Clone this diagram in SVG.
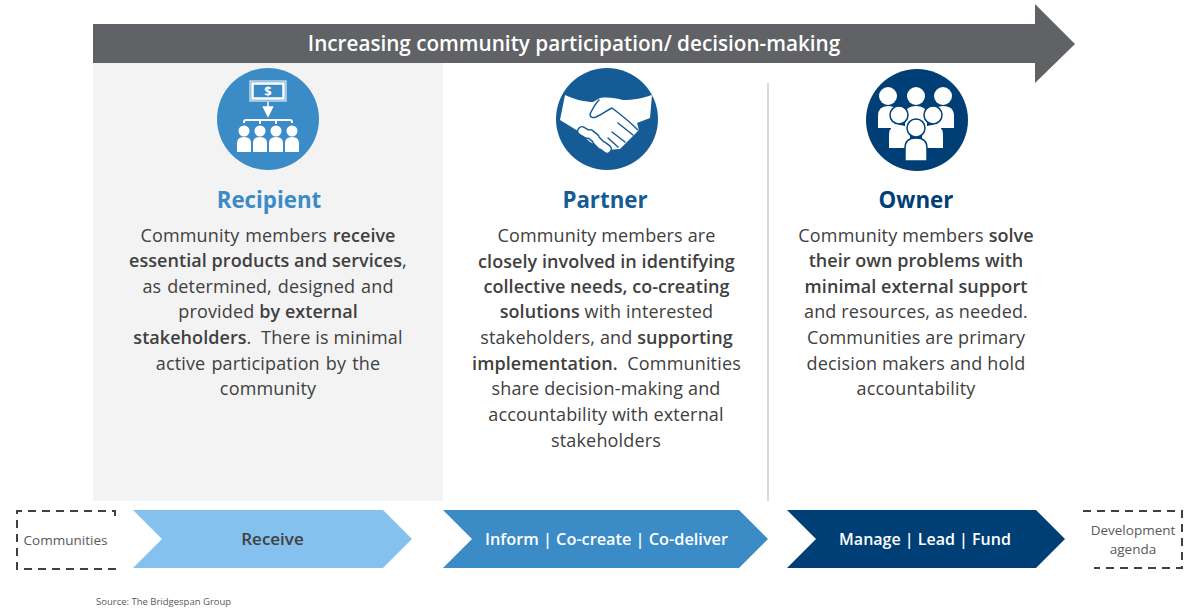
<svg xmlns="http://www.w3.org/2000/svg" width="1198" height="612" viewBox="0 0 1198 612">
<style>
text{font-family:"Open Sans","Noto Sans","Liberation Sans",sans-serif;fill:#404040;white-space:pre}
.b{font-size:18px;text-anchor:middle;fill:#404040;letter-spacing:.16px}
.s{font-weight:600;letter-spacing:.05px}
.h{font-size:22.300px;font-weight:700;text-anchor:middle}
.c{font-size:16.300px;font-weight:600;text-anchor:middle}
.d{font-size:13.500px;text-anchor:middle;fill:#595959}
.w{fill:#fff;stroke:none}
.dash{fill:none;stroke:#404040;stroke-width:2;stroke-dasharray:8 6}
</style>
<rect x="93" y="63" width="350" height="438" fill="#f3f3f3"/>
<path d="M93 24H1035V4L1075 44L1035 83V63H93Z" fill="#616265"/>
<text x="574" y="51" text-anchor="middle" font-size="20.700" font-weight="600" style="fill:#fff">Increasing community participation/ decision-making</text>
<line x1="768" y1="83" x2="768" y2="501" stroke="#d9d9d9" stroke-width="2"/>

<g id="node-recipient">
<circle cx="268" cy="119" r="51" fill="#3b8bc7"/>
<rect x="250" y="81" width="36" height="20" fill="none" stroke="#fff" stroke-width="1"/>
<rect x="252.500" y="83.500" width="31" height="15" fill="none" stroke="#fff" stroke-width="2.500"/>
<text x="268" y="96" text-anchor="middle" font-size="13" font-weight="700" style="fill:#fff">$</text>
<path d="M268 102V110M263.500 107H272.500L268 116Z" stroke="#fff" stroke-width="1.500" fill="#fff"/>
<path d="M244 123V122Q244 120 246 120H290Q292 120 292 122V123M260 120V124M276 120V124" fill="none" stroke="#fff" stroke-width="2"/>
<g class="w">
<circle cx="244" cy="131" r="5.500"/><path d="M237 152V143Q237 137 244 137Q251 137 251 143V152Z"/>
<circle cx="260" cy="131" r="5.500"/><path d="M253 152V143Q253 137 260 137Q267 137 267 143V152Z"/>
<circle cx="276" cy="131" r="5.500"/><path d="M269 152V143Q269 137 276 137Q283 137 283 143V152Z"/>
<circle cx="292" cy="131" r="5.500"/><path d="M285 152V143Q285 137 292 137Q299 137 299 143V152Z"/>
</g>
<text class="h" x="269" y="208" style="fill:#3b8bc7">Recipient</text>
<text class="b" x="268" y="242" word-spacing="1">Community members <tspan class="s">receive</tspan></text>
<text class="b" x="268" y="267"><tspan class="s">essential products and services</tspan>,</text>
<text class="b" x="268" y="293" word-spacing="1">as determined, designed and</text>
<text class="b" x="268" y="318">provided <tspan class="s">by external</tspan></text>
<text class="b" x="268" y="344"><tspan class="s">stakeholders</tspan>.  There is minimal</text>
<text class="b" x="268" y="370" word-spacing="1.200">active participation by the</text>
<text class="b" x="268" y="395">community</text>
</g>

<g id="node-partner">
<circle cx="607" cy="119" r="51" fill="#155c96"/>
<path class="w" d="M565 95C576 100 586 102 593 102L600 98C608 97 616 98 623 100C633 100 644 98 652 95L650 118L637 123L639 130L620 149L606 150L590 142L578 131L560 120Z"/>
<g fill="none" stroke-linecap="round">
<path d="M582 131L587 134M590 134L595 138M597 141L601 145M603 146L607 149" stroke="#155c96" stroke-width="10"/>
<path d="M582 131L587 134M590 134L595 138M597 141L601 145M603 146L607 149" stroke="#fff" stroke-width="7"/>
</g>
<path d="M599 100C595 104 592 110 590 114C590 118 593 118 596 117C603 114 607 110 612 108C620 114 630 122 638 130M618 123L633 135M612 132L625 142M608 138L618 147" fill="none" stroke="#155c96" stroke-width="1.500" stroke-linecap="round"/>
<text class="h" x="605" y="208" style="fill:#155c96">Partner</text>
<text class="b" x="606.500" y="242">Community members are</text>
<text class="b" x="606.500" y="268"><tspan class="s">closely involved in identifying</tspan></text>
<text class="b" x="606.500" y="293"><tspan class="s">collective needs, co-creating</tspan></text>
<text class="b" x="606.500" y="318"><tspan class="s">solutions</tspan> with interested</text>
<text class="b" x="606.500" y="344"><tspan>stakeholders, and </tspan><tspan class="s">supporting</tspan></text>
<text class="b" x="606.500" y="370"><tspan class="s">implementation.</tspan>  Communities</text>
<text class="b" x="606" y="395">share decision-making and</text>
<text class="b" x="606" y="421">accountability with external</text>
<text class="b" x="606" y="447">stakeholders</text>
</g>

<g id="node-owner">
<circle cx="917" cy="120" r="51" fill="#003f75"/>
<g class="w">
<circle cx="888" cy="96" r="9"/>
<circle cx="916" cy="96" r="9"/>
<circle cx="943" cy="96" r="9"/>
<path d="M878 128V116Q878 106 888 106Q899 106 899 116V128Z"/>
<path d="M905 128V116Q905 106 916 106Q927 106 927 116V128Z"/>
<path d="M933 128V116Q933 106 943 106Q954 106 954 116V128Z"/>
<path d="M889 148V135Q889 125 899 125Q910 125 910 135V148Z"/>
<path d="M922 148V135Q922 125 933 125Q943 125 943 135V148Z"/>
</g>
<g fill="#fff" stroke="#003f75" stroke-width="1.500">
<circle cx="899" cy="115" r="9"/>
<circle cx="933" cy="115" r="9"/>
<path d="M905 161V148Q905 138 916 138Q927 138 927 148V161Z"/>
<circle cx="916" cy="128" r="9"/>
</g>
<text class="h" x="916" y="208" style="fill:#003f75">Owner</text>
<text class="b" x="916" y="242">Community members <tspan class="s">solve</tspan></text>
<text class="b" x="916" y="267"><tspan class="s">their own problems with</tspan></text>
<text class="b" x="916" y="293"><tspan class="s">minimal external support</tspan></text>
<text class="b" x="916" y="318">and resources, as needed.</text>
<text class="b" x="916" y="344">Communities are primary</text>
<text class="b" x="916" y="370">decision makers and hold</text>
<text class="b" x="916" y="395">accountability</text>
</g>

<g id="connectors">
<path id="chev-receive" d="M133 510H383L412 539L383 568H133L162 539Z" fill="#85c1ee"/>
<path id="chev-inform" d="M443 510H739L768 539L739 568H443L472 539Z" fill="#3b8bc7"/>
<path id="chev-manage" d="M787 510H1036L1065 539L1036 568H787L816 539Z" fill="#003f75"/>
</g>
<text class="c" x="272.500" y="545" style="font-size:17px">Receive</text>
<text class="c" x="606.500" y="545" style="fill:#fff">Inform | Co-create | Co-deliver</text>
<text class="c" x="925" y="545" style="fill:#fff;font-size:16px">Manage | Lead | Fund</text>

<g id="node-communities">
<path class="dash" d="M115 516V511H17V569H115V564"/>
<text class="d" x="65.500" y="545">Communities</text>
</g>
<g id="node-development">
<path class="dash" d="M1083 511H1182V568H1094"/>
<text class="d" x="1133" y="535">Development</text>
<text class="d" x="1133" y="554">agenda</text>
</g>
<text x="96" y="605" font-size="9.500" style="fill:#595959">Source: The Bridgespan Group</text>
</svg>
